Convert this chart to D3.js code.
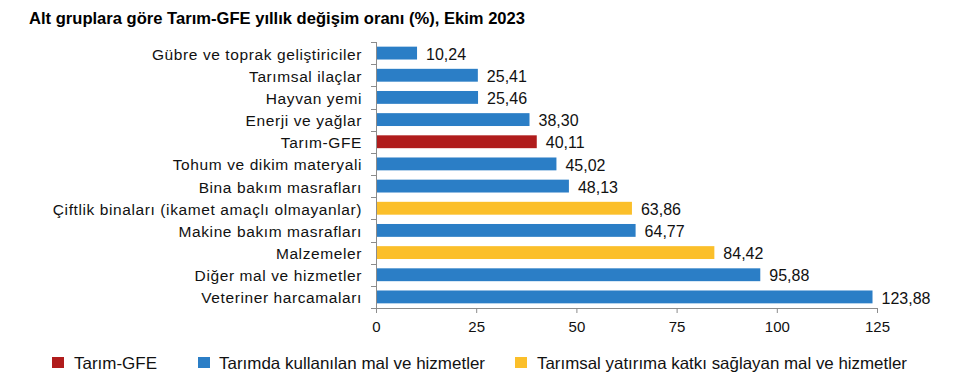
<!DOCTYPE html>
<html>
<head>
<meta charset="utf-8">
<script src="https://cdn.jsdelivr.net/npm/d3@7"></script>
<style>
  body { margin: 0; background: #fff; }
  svg { font-family: "Liberation Sans", Arial, sans-serif; }
</style>
</head>
<body>
<svg id="chart" width="956" height="392"></svg>
<script>
var categories = [
  "Gübre ve toprak geliştiriciler",
  "Tarımsal ilaçlar",
  "Hayvan yemi",
  "Enerji ve yağlar",
  "Tarım-GFE",
  "Tohum ve dikim materyali",
  "Bina bakım masrafları",
  "Çiftlik binaları (ikamet amaçlı olmayanlar)",
  "Makine bakım masrafları",
  "Malzemeler",
  "Diğer mal ve hizmetler",
  "Veteriner harcamaları"
];
var values = [10.24, 25.41, 25.46, 38.30, 40.11, 45.02, 48.13, 63.86, 64.77, 84.42, 95.88, 123.88];
var groups = ["used", "used", "used", "used", "total", "used", "used", "invest", "used", "invest", "used", "used"];
var xTicks = [0, 25, 50, 75, 100, 125];
var legendNames = ["Tarım-GFE", "Tarımda kullanılan mal ve hizmetler", "Tarımsal yatırıma katkı sağlayan mal ve hizmetler"];
var legendKeys = ["total", "used", "invest"];

var colors = { total: "#b01c1c", used: "#2b7ec6", invest: "#fbbf2a" };

var svg = d3.select("#chart");
var plotLeft = 376, plotRight = 877, plotTop = 42, plotBottom = 308;

var x = d3.scaleLinear().domain([0, 125]).range([plotLeft, plotRight]);
var y = d3.scaleBand().domain(categories).range([plotTop, plotBottom]).paddingInner(0.42).paddingOuter(0.21);

svg.append("text")
  .attr("x", 29).attr("y", 24)
  .style("font-size", "16.5px").style("font-weight", "bold")
  .attr("textLength", 496).attr("lengthAdjust", "spacingAndGlyphs")
  .text("Alt gruplara göre Tarım-GFE yıllık değişim oranı (%), Ekim 2023");

// bars
svg.selectAll("rect.bar")
  .data(values)
  .enter()
  .append("rect")
    .attr("class", "bar")
    .attr("x", x(0) + 1)
    .attr("y", function(d, i){ return y(categories[i]); })
    .attr("width", function(d){ return x(d) - x(0) - 1; })
    .attr("height", y.bandwidth())
    .attr("fill", function(d, i){ return colors[groups[i]]; });

// value labels
svg.selectAll("text.val")
  .data(values)
  .enter()
  .append("text")
    .attr("class", "val")
    .attr("x", function(d){ return x(d) + 9; })
    .attr("y", function(d, i){ return y(categories[i]) + y.bandwidth() / 2 + 1; })
    .attr("dy", "0.35em")
    .style("font-size", "16px")
    .attr("fill", "#111")
    .text(function(d){ return d3.format(".2f")(d).replace(".", ","); });

// category labels
svg.selectAll("text.cat")
  .data(categories)
  .enter()
  .append("text")
    .attr("class", "cat")
    .attr("x", 362)
    .attr("y", function(d){ return y(d) + y.bandwidth() / 2 + 1; })
    .attr("dy", "0.35em")
    .attr("text-anchor", "end")
    .style("font-size", "15.5px")
    .style("letter-spacing", "0.6px")
    .attr("fill", "#111")
    .text(function(d){ return d; });

// y axis line with ticks at band boundaries
var axisColor = "#8c8c8c";
svg.append("line")
  .attr("x1", plotLeft + 0.5).attr("x2", plotLeft + 0.5).attr("y1", plotTop).attr("y2", plotBottom)
  .attr("stroke", axisColor);
var bounds = d3.range(categories.length + 1).map(function(i){ return plotTop + i * (plotBottom - plotTop) / categories.length; });
svg.selectAll("line.ytick")
  .data(bounds)
  .enter()
  .append("line")
    .attr("class", "ytick")
    .attr("x1", plotLeft - 5).attr("x2", plotLeft)
    .attr("y1", function(d){ return Math.round(d) + 0.5; })
    .attr("y2", function(d){ return Math.round(d) + 0.5; })
    .attr("stroke", axisColor);

// x axis
var xAxis = svg.append("g")
  .attr("transform", "translate(0," + plotBottom + ")")
  .call(d3.axisBottom(x).tickValues(xTicks).tickSize(5).tickPadding(8));
xAxis.select(".domain").attr("stroke", axisColor);
xAxis.selectAll(".tick line").attr("stroke", axisColor);
xAxis.selectAll(".tick text")
  .style("font-size", "15px")
  .style("font-family", "Liberation Sans, Arial, sans-serif")
  .attr("fill", "#111");

// legend
var legendX = [52, 198, 515];
var legendW = [83, 266, 370];
var legend = svg.selectAll("g.leg")
  .data(legendNames)
  .enter()
  .append("g")
    .attr("class", "leg")
    .attr("transform", function(d, i){ return "translate(" + legendX[i] + ",357)"; });
legend.append("rect")
  .attr("width", 12).attr("height", 11)
  .attr("fill", function(d, i){ return colors[legendKeys[i]]; });
legend.append("text")
  .attr("x", function(d, i){ return [22, 21, 22][i]; })
  .attr("y", 6).attr("dy", "0.35em")
  .style("font-size", "16.5px")
  .attr("textLength", function(d, i){ return legendW[i]; })
  .attr("lengthAdjust", "spacingAndGlyphs")
  .attr("fill", "#111")
  .text(function(d){ return d; });
</script>
</body>
</html>
